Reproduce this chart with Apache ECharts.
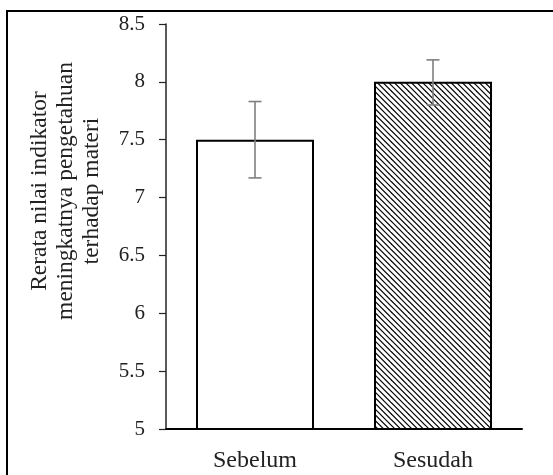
<!DOCTYPE html>
<html>
<head>
<meta charset="utf-8">
<script src="https://cdn.jsdelivr.net/npm/echarts@6/dist/echarts.min.js"></script>
<style>
  html, body { margin: 0; padding: 0; background: #fff; }
  #main { width: 553px; height: 475px; }
</style>
</head>
<body>
<div id="main"></div>
<script>
// data
var categories = ['Sebelum', 'Sesudah'];
var means = [7.5, 8.0];
var errLow = [7.17, 7.8];
var errHigh = [7.83, 8.19];
var yTicks = [5, 5.5, 6, 6.5, 7, 7.5, 8, 8.5];

var fontFam = '"Liberation Serif", "DejaVu Serif", serif';

// diagonal hatch for the second bar
function makeHatch() {
  var s = 17;
  var c = document.createElement('canvas');
  c.width = s; c.height = s;
  var ctx = c.getContext('2d');
  ctx.fillStyle = '#fff';
  ctx.fillRect(0, 0, s, s);
  ctx.strokeStyle = '#000';
  ctx.lineWidth = 1.2;
  for (var k = -6; k <= 6; k++) {
    var off = k * s / 3;
    ctx.beginPath();
    ctx.moveTo(-2, -2 + off);
    ctx.lineTo(s + 2, s + 2 + off);
    ctx.stroke();
  }
  return c;
}

var chart = echarts.init(document.getElementById('main'));

var errData = [];
for (var i = 0; i < categories.length; i++) {
  errData.push([i, errLow[i], errHigh[i]]);
}

chart.setOption({
  animation: false,
  grid: { left: 166, right: 31, top: 24, bottom: 46 },
  xAxis: {
    type: 'category',
    data: categories,
    axisLine: { lineStyle: { color: '#000', width: 2 } },
    axisTick: { show: false },
    axisLabel: { color: '#222', fontSize: 24, fontFamily: fontFam, margin: 20 }
  },
  yAxis: {
    type: 'value',
    min: yTicks[0],
    max: yTicks[yTicks.length - 1],
    interval: 0.5,
    axisLine: { show: true, lineStyle: { color: '#222', width: 1.5 } },
    axisTick: { show: true, length: 7, lineStyle: { color: '#222', width: 1.2 } },
    splitLine: { show: false },
    axisLabel: { color: '#222', fontSize: 21, fontFamily: fontFam, margin: 21 }
  },
  graphic: [
    {
      type: 'rect',
      shape: { x: 7, y: 11, width: 700, height: 700 },
      style: { fill: 'none', stroke: '#000', lineWidth: 2 },
      silent: true
    },
    {
      type: 'text',
      x: 66, y: 191,
      rotation: Math.PI / 2,
      style: {
        text: 'Rerata nilai indikator\nmeningkatnya pengetahuan\nterhadap materi',
        font: '23.5px ' + fontFam,
        fill: '#222',
        align: 'center',
        verticalAlign: 'middle',
        lineHeight: 26
      }
    }
  ],
  series: [
    {
      type: 'bar',
      barWidth: 118,
      data: [
        { value: means[0], itemStyle: { color: '#fff', borderColor: '#000', borderWidth: 2 } },
        { value: means[1], itemStyle: { color: { image: makeHatch(), repeat: 'repeat' }, borderColor: '#000', borderWidth: 2 } }
      ]
    },
    {
      type: 'custom',
      data: errData,
      z: 10,
      renderItem: function (params, api) {
        var x = api.value(0);
        var lo = api.coord([x, api.value(1)]);
        var hi = api.coord([x, api.value(2)]);
        var hw = 6.5;
        var st = { stroke: '#7f7f7f', lineWidth: 1.6 };
        return {
          type: 'group',
          children: [
            { type: 'line', shape: { x1: hi[0], y1: hi[1], x2: lo[0], y2: lo[1] }, style: st },
            { type: 'line', shape: { x1: hi[0] - hw, y1: hi[1], x2: hi[0] + hw, y2: hi[1] }, style: st },
            { type: 'line', shape: { x1: lo[0] - hw, y1: lo[1], x2: lo[0] + hw, y2: lo[1] }, style: st }
          ]
        };
      }
    }
  ]
});
</script>
</body>
</html>
